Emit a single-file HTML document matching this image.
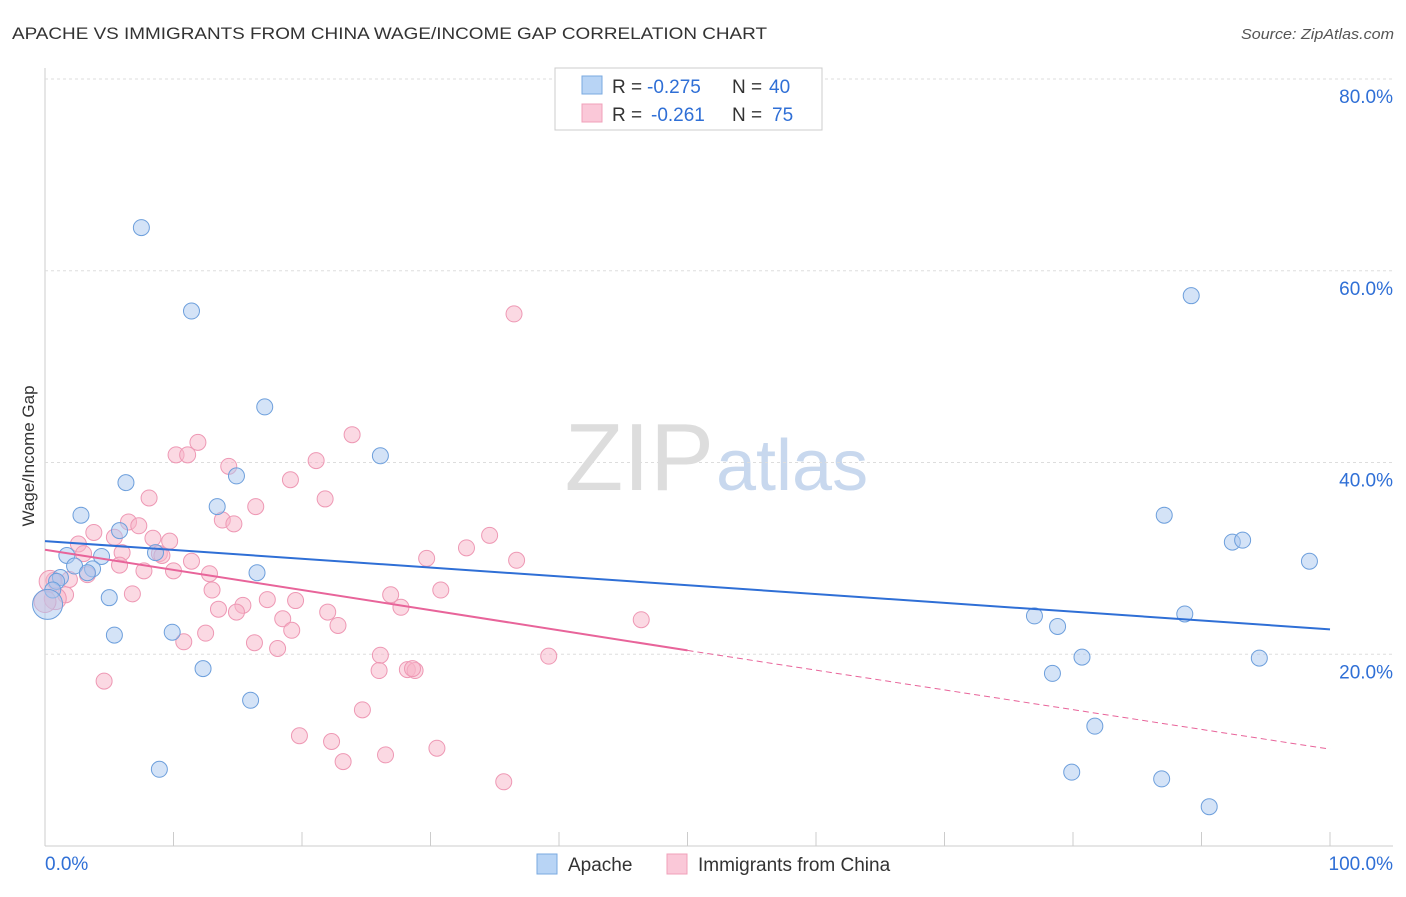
<!DOCTYPE html>
<html><head><meta charset="utf-8"><style>
body{margin:0;background:#fff;font-family:"Liberation Sans",sans-serif;}
svg text{font-family:"Liberation Sans",sans-serif;}
</style></head><body>
<svg id="c" width="1406" height="892">
<text x="12" y="39" font-size="17" fill="#333" textLength="755" lengthAdjust="spacingAndGlyphs">APACHE VS IMMIGRANTS FROM CHINA WAGE/INCOME GAP CORRELATION CHART</text>
<text x="1241" y="39" font-size="15" fill="#555" font-style="italic" textLength="153" lengthAdjust="spacingAndGlyphs">Source: ZipAtlas.com</text>
<text x="714" y="490" font-size="96" fill="#ddd" text-anchor="end" font-family="Liberation Serif">ZIP</text>
<text x="716" y="490" font-size="72" fill="#c8d8ee">atlas</text>
<text x="34" y="456" font-size="17" fill="#333" text-anchor="middle" transform="rotate(-90 34 456)">Wage/Income Gap</text>
<g id="grid"></g><g id="marks"></g>
<g>
<rect x="555" y="68" width="267" height="62" fill="#fff" stroke="#ccc"/>
<rect x="582" y="76" width="20" height="18" fill="#b8d4f5" stroke="#7aaae0"/>
<rect x="582" y="104" width="20" height="18" fill="#fac8d8" stroke="#f0a0ba"/>
<text x="612" y="93" font-size="19" fill="#333">R =</text>
<text x="647" y="93" font-size="19" fill="#2f6fd6">-0.275</text>
<text x="732" y="93" font-size="19" fill="#333">N =</text>
<text x="769" y="93" font-size="19" fill="#2f6fd6">40</text>
<text x="612" y="121" font-size="19" fill="#333">R =</text>
<text x="651" y="121" font-size="19" fill="#2f6fd6">-0.261</text>
<text x="732" y="121" font-size="19" fill="#333">N =</text>
<text x="772" y="121" font-size="19" fill="#2f6fd6">75</text>
</g>
<g>
<rect x="537" y="854" width="20" height="20" fill="#b8d4f5" stroke="#7aaae0"/>
<text x="568" y="871" font-size="19" fill="#333">Apache</text>
<rect x="667" y="854" width="20" height="20" fill="#fac8d8" stroke="#f0a0ba"/>
<text x="698" y="871" font-size="19" fill="#333">Immigrants from China</text>
</g>
</svg>
<script>
const yTicks=[20,40,60,80];
const xTickLabels=["0.0%","100.0%"];
const apacheX=[7.5,11.4,17.1,26.1,6.3,14.9,2.8,13.4,5.8,1.7,4.4,8.6,2.3,3.7,3.3,16.5,1.2,0.9,0.6,5.0,5.4,9.9,12.3,16.0,8.9,89.2,87.1,92.4,93.2,98.4,77.0,78.8,88.7,80.7,78.4,94.5,81.7,79.9,86.9,90.6,0.2];
const apacheY=[64.5,55.8,45.8,40.7,37.9,38.6,34.5,35.4,32.9,30.3,30.2,30.6,29.2,28.9,28.5,28.5,28.0,27.6,26.7,25.9,22.0,22.3,18.5,15.2,8.0,57.4,34.5,31.7,31.9,29.7,24.0,22.9,24.2,19.7,18.0,19.6,12.5,7.7,7.0,4.1,25.2];
const chinaX=[36.5,23.9,11.9,10.2,11.1,21.1,14.3,19.1,8.1,21.8,16.4,13.8,14.7,6.5,7.3,3.8,5.4,34.6,8.4,9.7,2.6,32.8,8.9,9.1,6.0,3.0,29.7,36.7,11.4,5.8,7.7,10.0,12.8,3.3,1.9,0.7,13.0,30.8,6.8,1.6,26.9,17.3,19.5,15.4,27.7,13.5,14.9,22.0,18.5,46.4,22.8,19.2,12.5,10.8,16.3,18.1,26.1,39.2,26.0,28.2,28.8,28.6,4.6,24.7,19.8,22.3,30.5,26.5,23.2,35.7,0.8,0.4,0.0];
const chinaY=[55.5,42.9,42.1,40.8,40.8,40.2,39.6,38.2,36.3,36.2,35.4,34.0,33.6,33.8,33.4,32.7,32.2,32.4,32.1,31.8,31.5,31.1,30.5,30.3,30.6,30.5,30.0,29.8,29.7,29.3,28.7,28.7,28.4,28.3,27.8,27.7,26.7,26.7,26.3,26.2,26.2,25.7,25.6,25.1,24.9,24.7,24.4,24.4,23.7,23.6,23.0,22.5,22.2,21.3,21.2,20.6,19.9,19.8,18.3,18.4,18.3,18.5,17.2,14.2,11.5,10.9,10.2,9.5,8.8,6.7,25.8,27.6,25.5];
const apacheTrend=[31.8,22.6];
const chinaTrend=[30.9,20.4,10.1];
const X=v=>45+v*12.85, Y=v=>846-v*9.5875;
const NS="http://www.w3.org/2000/svg";
function mk(t,a,p){const e=document.createElementNS(NS,t);for(const k in a)e.setAttribute(k,a[k]);p.appendChild(e);return e;}
const g=document.getElementById('grid'), m=document.getElementById('marks');
mk('line',{x1:45,y1:68,x2:45,y2:846,stroke:'#ccc'},g);
mk('line',{x1:45,y1:846,x2:1393,y2:846,stroke:'#ccc'},g);
yTicks.forEach(t=>{
 const l=mk('line',{x1:45,y1:Y(t),x2:1393,y2:Y(t),stroke:'#ddd','stroke-dasharray':'3,3'},g);
 
 
 const tx=mk('text',{x:1393,y:Y(t)+24,'font-size':19,fill:'#2f6fd6','text-anchor':'end'},g);tx.textContent=t.toFixed(1)+'%';
 
 
});
for(let i=0;i<=10;i++){mk('line',{x1:X(i*10),y1:832,x2:X(i*10),y2:846,stroke:'#ccc'},g);}
const xl0=mk('text',{x:45,y:870,'font-size':19,fill:'#2f6fd6'},g);xl0.textContent=xTickLabels[0];


const xl1=mk('text',{x:1393,y:870,'font-size':19,fill:'#2f6fd6','text-anchor':'end'},g);xl1.textContent=xTickLabels[1];


chinaX.forEach((x,i)=>{const c=mk('circle',{cx:X(x),cy:Y(chinaY[i]),r:i>=chinaX.length-3?11:8,fill:'rgba(248,180,200,0.5)',stroke:'#ee98b4','stroke-width':1},m);
 
 });
apacheX.forEach((x,i)=>{const c=mk('circle',{cx:X(x),cy:Y(apacheY[i]),r:i==apacheX.length-1?15:8,fill:'rgba(170,200,240,0.5)',stroke:'#6d9fdc','stroke-width':1},m);
 
 });
const bl=mk('line',{x1:X(0),y1:Y(apacheTrend[0]),x2:X(100),y2:Y(apacheTrend[1]),stroke:'#2f6fd6','stroke-width':2},m);


const pl=mk('line',{x1:X(0),y1:Y(chinaTrend[0]),x2:X(50),y2:Y(chinaTrend[1]),stroke:'#e8649a','stroke-width':2},m);


const pd=mk('line',{x1:X(50),y1:Y(chinaTrend[1]),x2:X(100),y2:Y(chinaTrend[2]),stroke:'#e8649a','stroke-width':1,'stroke-dasharray':'6,4'},m);


</script>
</body></html>
